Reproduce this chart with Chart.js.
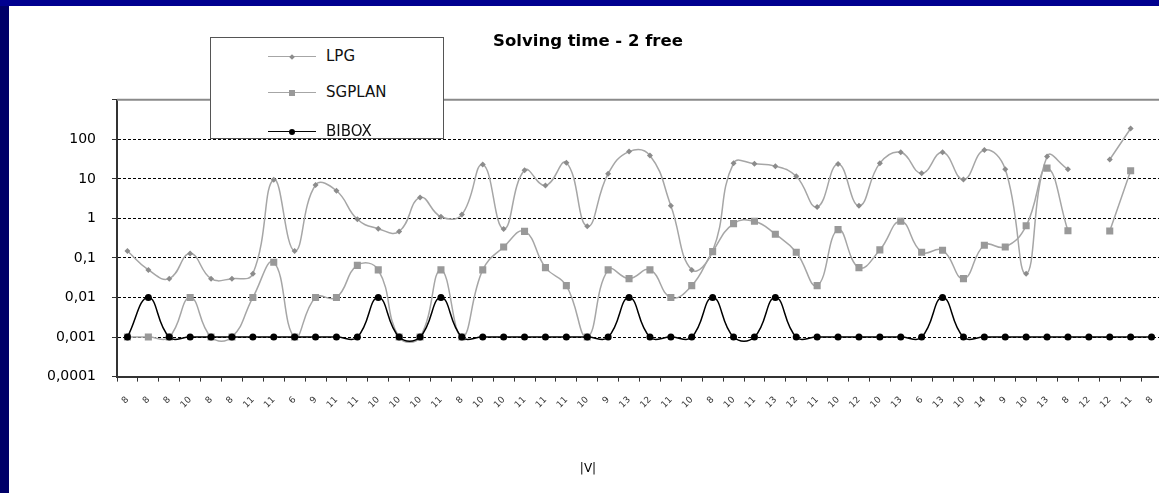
<!DOCTYPE html>
<html lang="en">

<head>
  <meta charset="UTF-8">
  <meta name="viewport" content="width=device-width, initial-scale=1.0">
  <title>Solving time - 2 free</title>
  <script src="https://cdn.jsdelivr.net/npm/chart.js"></script>
  <style>
    html, body { margin: 0; padding: 0; overflow: hidden; }
    body {
      width: 1159px; height: 493px; position: relative;
      background: #000068;
      font-family: "DejaVu Sans", Arial, sans-serif;
    }
    .faixa { position: absolute; left: 0; top: 0; width: 1159px; height: 6px; background: #000090; }
    .papel { position: absolute; left: 9px; top: 6px; width: 1150px; height: 487px; background: #fff; }
    .grafico { position: absolute; left: 9px; top: 6px; width: 1150px; height: 487px; overflow: hidden; }
    .legenda {
      position: absolute; left: 210px; top: 37px; width: 232px; height: 100px;
      background: #fff; border: 1.5px solid #555;
    }
    .item { position: absolute; left: 0; height: 18px; width: 230px; }
    .traco { position: absolute; left: 57px; width: 48px; top: 9px; }
    .marca { position: absolute; }
    .nome { position: absolute; left: 115px; top: 0; font-size: 15px; line-height: 18px; color: #111; }
  </style>
</head>

<body>
  <div class="faixa"></div>
  <div class="papel"></div>
  <div class="grafico">
    <canvas id="tempo" width="1158" height="487"></canvas>
  </div>
  <div class="legenda" id="legenda"></div>

  <script>
    // valores (escala log, segundos)
    var categorias = [8, 8, 8, 10, 8, 8, 11, 11, 6, 9,
      11, 11, 10, 10, 10, 11, 8, 10, 10, 11,
      11, 11, 10, 9, 13, 12, 11, 10, 8, 10,
      11, 13, 12, 11, 10, 12, 10, 13, 6, 13,
      10, 14, 9, 10, 13, 8, 12, 12, 11, 8]

    var tempoLPG = [0.15, 0.05, 0.03, 0.13, 0.03, 0.03, 0.04, 9.5, 0.15, 7,
      5, 0.95, 0.55, 0.47, 3.4, 1.1, 1.25, 23, 0.54, 16.5,
      6.8, 25.7, 0.63, 13.5, 49, 39, 2.1, 0.05, 0.15, 25,
      24, 21, 11.6, 1.95, 23.8, 2.1, 25, 47, 13.8, 47,
      9.6, 54, 17.5, 0.04, 37, 17.5, null, 31, 188, null]

    var tempoSGPLAN = [0.001, 0.001, 0.001, 0.01, 0.001, 0.001, 0.01, 0.078, 0.001, 0.01,
      0.01, 0.065, 0.05, 0.001, 0.001, 0.05, 0.001, 0.05, 0.19, 0.47,
      0.057, 0.02, 0.001, 0.05, 0.03, 0.05, 0.01, 0.02, 0.145, 0.74,
      0.85, 0.4, 0.14, 0.02, 0.52, 0.057, 0.16, 0.85, 0.14, 0.157,
      0.03, 0.21, 0.19, 0.65, 18.7, 0.49, null, 0.48, 16, null]

    var tempoBIBOX = [0.001, 0.01, 0.001, 0.001, 0.001, 0.001, 0.001, 0.001, 0.001, 0.001,
      0.001, 0.001, 0.01, 0.001, 0.001, 0.01, 0.001, 0.001, 0.001, 0.001,
      0.001, 0.001, 0.001, 0.001, 0.01, 0.001, 0.001, 0.001, 0.01, 0.001,
      0.001, 0.01, 0.001, 0.001, 0.001, 0.001, 0.001, 0.001, 0.001, 0.01,
      0.001, 0.001, 0.001, 0.001, 0.001, 0.001, 0.001, 0.001, 0.001, 0.001]

    var marcasY = [0.0001, 0.001, 0.01, 0.1, 1, 10, 100, 1000]

    var fonte = '"DejaVu Sans", Arial, sans-serif'

    // linha cinza no topo da area do grafico
    var moldura = {
      id: 'moldura',
      beforeDatasetsDraw: function (chart) {
        var a = chart.chartArea
        var ctx = chart.ctx
        ctx.save()
        ctx.strokeStyle = '#8a8a8a'
        ctx.lineWidth = 2
        ctx.beginPath()
        ctx.moveTo(a.left, a.top)
        ctx.lineTo(a.right + 2, a.top)
        ctx.stroke()
        ctx.restore()
      }
    }

    var dados = {
      labels: categorias,
      datasets: [{
        label: 'LPG',
        data: tempoLPG,
        borderColor: '#a6a6a6',
        backgroundColor: '#8c8c8c',
        borderWidth: 1.5,
        pointStyle: 'rectRot',
        pointRadius: 3,
        pointBorderWidth: 0,
        tension: 0.45,
        order: 2
      }, {
        label: 'SGPLAN',
        data: tempoSGPLAN,
        borderColor: '#a6a6a6',
        backgroundColor: '#999999',
        borderWidth: 1.5,
        pointStyle: 'rect',
        pointRadius: 5,
        pointBorderWidth: 0,
        tension: 0.45,
        order: 1
      }, {
        label: 'BIBOX',
        data: tempoBIBOX,
        borderColor: '#000',
        backgroundColor: '#000',
        borderWidth: 1.5,
        pointStyle: 'circle',
        pointRadius: 3.5,
        pointBorderWidth: 0,
        tension: 0.45,
        order: 0
      }]
    }

    var config = {
      type: 'line',
      data: dados,
      plugins: [moldura],
      options: {
        responsive: false,
        animation: false,
        spanGaps: false,
        layout: { padding: 0 },
        plugins: {
          legend: { display: false },
          tooltip: { enabled: false },
          title: {
            display: true,
            text: 'Solving time - 2 free',
            color: '#000',
            font: { family: fonte, size: 16.5, weight: 'bold' },
            padding: { top: 26, bottom: 48 }
          },
          subtitle: {
            display: true,
            position: 'bottom',
            text: '|V|',
            color: '#000',
            font: { family: fonte, size: 12, weight: 'normal' },
            padding: { top: 15, bottom: 17 }
          }
        },
        scales: {
          x: {
            type: 'category',
            offset: true,
            grid: { offset: true, drawOnChartArea: false, drawTicks: true, tickLength: 5, color: '#333', tickColor: '#333' },
            border: { color: '#333', width: 2 },
            ticks: {
              autoSkip: false, minRotation: 45, maxRotation: 45, padding: 13,
              color: '#333', font: { family: fonte, size: 9 }
            },
            afterFit: function (s) {
              s.height = 70
              // sem folga lateral: a area do grafico vai ate a borda
              s.paddingLeft = 0
              s.paddingRight = 0
            }
          },
          y: {
            type: 'logarithmic',
            min: 0.0001,
            max: 1000,
            afterBuildTicks: function (s) {
              s.ticks = marcasY.map(function (v) { return { value: v } })
            },
            afterFit: function (s) { s.width = 108 },
            grid: {
              color: function (c) {
                if (!c.tick) return '#000'
                return (c.tick.value <= 0.0001 || c.tick.value >= 1000) ? 'rgba(0,0,0,0)' : '#000'
              },
              lineWidth: 1,
              tickLength: 5,
              tickColor: '#333'
            },
            border: { color: '#333', width: 2, dash: [3, 2] },
            ticks: {
              padding: 16,
              color: '#000',
              font: { family: fonte, size: 14 },
              callback: function (v) {
                if (v >= 1000) return ''
                return String(v).replace('.', ',')
              }
            }
          }
        }
      }
    }

    var grafico = new Chart(document.getElementById('tempo'), config)

    // legenda em caixa, montada a partir dos datasets
    var topos = [9, 45, 84]
    var legenda = document.getElementById('legenda')
    var ordemLegenda = [0, 1, 2]
    ordemLegenda.forEach(function (i, k) {
      var ds = grafico.data.datasets[i]
      var item = document.createElement('div')
      item.className = 'item'
      item.style.top = topos[k] + 'px'

      var traco = document.createElement('div')
      traco.className = 'traco'
      traco.style.borderTop = (ds.borderColor === '#000' ? 1.5 : 1) + 'px solid ' + ds.borderColor
      item.appendChild(traco)

      var marca = document.createElement('div')
      marca.className = 'marca'
      var lado = ds.pointStyle === 'rectRot' ? 4 : 6
      marca.style.width = lado + 'px'
      marca.style.height = lado + 'px'
      marca.style.left = (81 - lado / 2) + 'px'
      marca.style.top = (9.5 - lado / 2) + 'px'
      marca.style.background = ds.backgroundColor
      if (ds.pointStyle === 'circle') marca.style.borderRadius = '50%'
      if (ds.pointStyle === 'rectRot') marca.style.transform = 'rotate(45deg)'
      item.appendChild(marca)

      var nome = document.createElement('div')
      nome.className = 'nome'
      nome.textContent = ds.label
      item.appendChild(nome)

      legenda.appendChild(item)
    })
  </script>
</body>

</html>
